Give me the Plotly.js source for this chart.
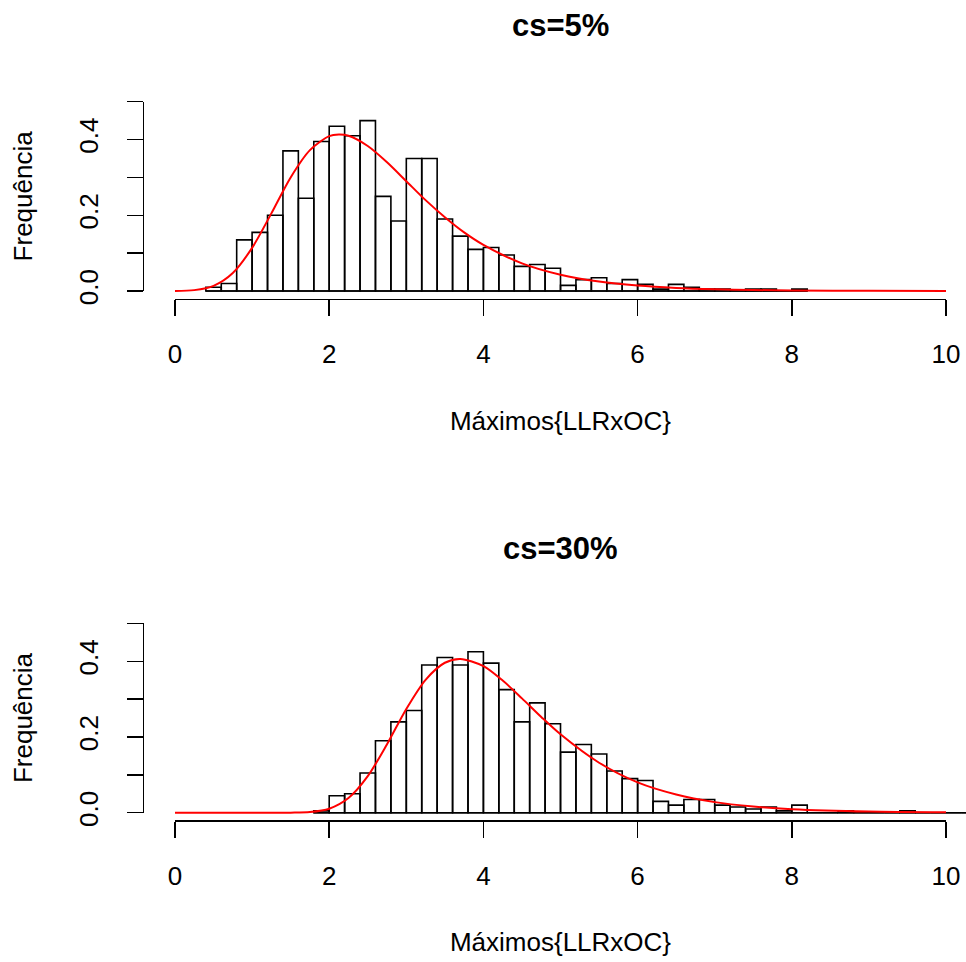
<!DOCTYPE html>
<html>
<head>
<meta charset="utf-8">
<script src="https://cdn.plot.ly/plotly-3.0.1.min.js"></script>
<style>html,body{margin:0;padding:0;background:#fff;}#chart{width:966px;height:962px;}</style>
</head>
<body>
<div id="chart"></div>
<script>
// ---------- data ----------
const binWidth = 0.2;

// cs=5%
const binStart5 = 0.4;
const dens5 = [0.010, 0.020, 0.135, 0.155, 0.200, 0.370, 0.245, 0.395, 0.435, 0.410,
               0.450, 0.250, 0.185, 0.350, 0.350, 0.190, 0.145, 0.110, 0.115, 0.095,
               0.065, 0.070, 0.060, 0.015, 0.030, 0.035, 0.020, 0.030, 0.0175, 0.005,
               0.0175, 0.010, 0.005, 0.005, 0.002, 0.005, 0.005, 0.0, 0.005];
const curveX5 = [0, 0.25, 0.5, 0.75, 1.0, 1.25, 1.5, 1.75, 2.0, 2.125, 2.25, 2.5, 2.75, 3.0,
                 3.25, 3.5, 3.75, 4.0, 4.5, 5.0, 5.5, 6.0, 6.5, 7.0, 7.5, 8.0, 9.0, 10.0];
const curveY5 = [0.0002, 0.0024, 0.0137, 0.0476, 0.114, 0.205, 0.300, 0.372, 0.409, 0.413,
                 0.410, 0.383, 0.340, 0.290, 0.240, 0.195, 0.155, 0.122, 0.073, 0.043,
                 0.025, 0.0144, 0.0082, 0.0047, 0.0027, 0.0015, 0.0005, 0.00015];

// cs=30%
const binStart30 = 1.8;
const dens30 = [0.005, 0.045, 0.050, 0.105, 0.190, 0.240, 0.270, 0.390, 0.410, 0.390,
                0.425, 0.395, 0.325, 0.240, 0.290, 0.235, 0.160, 0.180, 0.155, 0.110,
                0.090, 0.085, 0.030, 0.020, 0.035, 0.035, 0.020, 0.015, 0.010, 0.015,
                0.005, 0.020, 0.0, 0.0, 0.005, 0.0, 0.0, 0.0, 0.005, 0.0,
                0.0, 0.0, 0.0];
const curveX30 = [0, 0.5, 1.0, 1.5, 1.75, 2.0, 2.25, 2.5, 2.75, 3.0, 3.25, 3.5, 3.7, 4.0,
                  4.25, 4.5, 4.75, 5.0, 5.5, 6.0, 6.5, 7.0, 7.5, 8.0, 9.0, 10.0];
const curveY30 = [0, 0, 0, 0.00015, 0.0017, 0.0105, 0.0387, 0.0965, 0.181, 0.274, 0.351,
                  0.396, 0.406, 0.387, 0.349, 0.302, 0.253, 0.207, 0.132, 0.080, 0.048,
                  0.028, 0.0164, 0.0095, 0.0032, 0.0011];

const titles = ["cs=5%", "cs=30%"];
const xTitle = "Máximos{LLRxOC}";
const yTitle = "Frequência";
const xTickVals = [0, 2, 4, 6, 8, 10];
const xTickText = ["0", "2", "4", "6", "8", "10"];
const yTickVals = [0, 0.1, 0.2, 0.3, 0.4, 0.5];
const yTickText = ["0.0", "", "0.2", "", "0.4", ""];

// ---------- build ----------
function centers(start, arr) { return arr.map((_, i) => start + (i + 0.5) * binWidth); }

const FONT = "Liberation Sans, Arial, Helvetica, sans-serif";
const FS = 26;

function histTraces(start, dens, cx, cy, xa, ya) {
  const endEdge = start + dens.length * binWidth;
  return [
    {type: 'bar', x: centers(start, dens), y: dens, width: binWidth, xaxis: xa, yaxis: ya,
     marker: {color: 'rgba(255,255,255,0)', line: {color: '#000', width: 1.6}},
     hoverinfo: 'skip', showlegend: false},
    {type: 'scatter', mode: 'lines', x: [start, endEdge], y: [0, 0], xaxis: xa, yaxis: ya,
     line: {color: '#000', width: 1.6}, hoverinfo: 'skip', showlegend: false},
    {type: 'scatter', mode: 'lines', x: cx, y: cy, xaxis: xa, yaxis: ya,
     line: {color: '#ff0000', width: 2, shape: 'spline', smoothing: 0.8},
     hoverinfo: 'skip', showlegend: false}
  ];
}

const traces = []
  .concat(histTraces(binStart5, dens5, curveX5, curveY5, 'x', 'y'))
  .concat(histTraces(binStart30, dens30, curveX30, curveY30, 'x2', 'y2'))
  .concat([
    {type: 'scatter', x: [], y: [], xaxis: 'x3', yaxis: 'y3', showlegend: false},
    {type: 'scatter', x: [], y: [], xaxis: 'x4', yaxis: 'y4', showlegend: false}
  ]);

const H = 962, L = 144, W = 966;
const pxX = p => (p - L) / (W - L);
const pxY = p => 1 - p / H;

const dataX = {range: [-0.402, 10.259], domain: [0, 1], visible: false, fixedrange: true};
const dataY = {range: [-0.02, 0.52], visible: false, fixedrange: true};

function decoX(anchor) {
  return {domain: [pxX(175), pxX(946)], range: [0, 10], anchor: anchor,
          showline: true, linecolor: '#000', linewidth: 1.5, showgrid: false, zeroline: false,
          ticks: 'outside', ticklen: 16, tickwidth: 1.5, tickcolor: '#000',
          tickmode: 'array', tickvals: xTickVals, ticktext: xTickText,
          tickfont: {family: FONT, size: FS, color: '#000'}, ticklabelstandoff: 16,
          title: {text: xTitle, font: {family: FONT, size: FS, color: '#000'}, standoff: 43},
          fixedrange: true};
}
function decoY(anchor, d0, d1) {
  return {domain: [pxY(d0), pxY(d1)], range: [0, 0.5], anchor: anchor,
          showline: true, linecolor: '#000', linewidth: 1.5, showgrid: false, zeroline: false,
          ticks: 'outside', ticklen: 16, tickwidth: 1.5, tickcolor: '#000',
          tickmode: 'array', tickvals: yTickVals, ticktext: yTickText, tickangle: -90,
          tickfont: {family: FONT, size: FS, color: '#000'}, ticklabelstandoff: 18,
          title: {text: yTitle, font: {family: FONT, size: FS, color: '#000'}, standoff: 34},
          fixedrange: true};
}

const layout = {
  width: W, height: H,
  margin: {l: L, r: 0, t: 0, b: 0},
  paper_bgcolor: '#fff', plot_bgcolor: 'rgba(0,0,0,0)',
  bargap: 0, barmode: 'overlay',
  showlegend: false,
  xaxis: Object.assign({}, dataX, {anchor: 'y'}),
  yaxis: Object.assign({}, dataY, {domain: [pxY(298.6), pxY(94.1)], anchor: 'x'}),
  xaxis2: Object.assign({}, dataX, {anchor: 'y2'}),
  yaxis2: Object.assign({}, dataY, {domain: [pxY(820.3), pxY(615.8)], anchor: 'x2'}),
  xaxis3: decoX('y'),
  yaxis3: decoY('x', 291, 101.7),
  xaxis4: decoX('y2'),
  yaxis4: decoY('x2', 812.7, 623.4),
  annotations: [
    {text: '<b>' + titles[0] + '</b>', xref: 'paper', yref: 'paper', x: pxX(560), y: pxY(26),
     xanchor: 'center', yanchor: 'middle', showarrow: false,
     font: {family: FONT, size: 31, color: '#000'}},
    {text: '<b>' + titles[1] + '</b>', xref: 'paper', yref: 'paper', x: pxX(560), y: pxY(548),
     xanchor: 'center', yanchor: 'middle', showarrow: false,
     font: {family: FONT, size: 31, color: '#000'}}
  ]
};

Plotly.newPlot('chart', traces, layout, {displayModeBar: false, staticPlot: true});
</script>
</body>
</html>
